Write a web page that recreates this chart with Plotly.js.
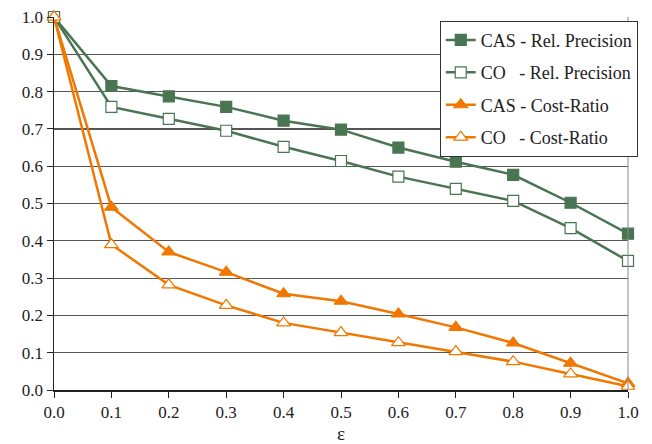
<!DOCTYPE html>
<html><head><meta charset="utf-8">
<script src="https://cdn.plot.ly/plotly-3.0.1.min.js"></script>
<style>
body{margin:0;background:#fff}
#chart text{font-family:"Liberation Serif",serif !important;}
</style>
</head><body>
<div id="chart" style="width:652px;height:444px"></div>
<script>
const eps = [0.0, 0.1, 0.2, 0.3, 0.4, 0.5, 0.6, 0.7, 0.8, 0.9, 1.0];
const casRelPrecision = [1.0, 0.815, 0.787, 0.759, 0.722, 0.698, 0.650, 0.612, 0.577, 0.502, 0.419];
const coRelPrecision  = [1.0, 0.759, 0.727, 0.695, 0.652, 0.614, 0.572, 0.539, 0.507, 0.434, 0.346];
const casCostRatio    = [1.0, 0.490, 0.370, 0.316, 0.258, 0.238, 0.204, 0.168, 0.126, 0.072, 0.018];
const coCostRatio     = [1.0, 0.390, 0.282, 0.227, 0.180, 0.154, 0.127, 0.103, 0.076, 0.043, 0.010];
const names = ["CAS - Rel. Precision", "CO&nbsp;&nbsp;&nbsp;- Rel. Precision", "CAS - Cost-Ratio", "CO&nbsp;&nbsp;&nbsp;- Cost-Ratio"];
const tickVals = [0, 0.1, 0.2, 0.3, 0.4, 0.5, 0.6, 0.7, 0.8, 0.9, 1.0];
const tickText = ["0.0","0.1","0.2","0.3","0.4","0.5","0.6","0.7","0.8","0.9","1.0"];

const FF = "Liberation Serif";
const green = "#4a7552", orange = "#f07800";
function tr(y, name, color, symbol, open, group) {
  return {x: eps, y: y, name: name, mode: "lines+markers", legendgroup: group,
    line: {color: color, width: 2.5},
    marker: {symbol: symbol, size: symbol === "square" ? 11 : 12, color: open ? "#fff" : color,
      line: {color: color, width: 1.2}},
    cliponaxis: false};
}
const data = [
  tr(casRelPrecision, names[0], green, "square", false, "a"),
  tr(coRelPrecision, names[1], green, "square", true, "b"),
  tr(casCostRatio, names[2], orange, "triangle-up", false, "c"),
  tr(coCostRatio, names[3], orange, "triangle-up", true, "d"),
];

const layout = {
  width: 652, height: 444,
  margin: {l: 54, r: 24, t: 17, b: 54},
  paper_bgcolor: "#fff", plot_bgcolor: "#fff",
  font: {family: FF, size: 17, color: "#222"},
  showlegend: true,
  legend: {x: 1.017, xanchor: "right", y: 0.99, yanchor: "top", bgcolor: "#fff",
    bordercolor: "#333", borderwidth: 1, font: {family: FF, size: 18, color: "#222"},
    traceorder: "grouped", tracegroupgap: 6},
  xaxis: {range: [0, 1], tickvals: tickVals, ticktext: tickText, showgrid: false,
    showline: true, linecolor: "#222", linewidth: 1.5, ticks: "outside", ticklen: 6,
    tickcolor: "#222", zeroline: false, mirror: false, tickfont: {family: FF, size: 17, color: "#222"},
    title: {text: "ε", font: {family: FF, size: 19, color: "#222"}, standoff: 8}},
  yaxis: {range: [0, 1], tickvals: tickVals, ticktext: tickText, showgrid: true,
    gridcolor: "#555", gridwidth: 1.2, showline: true, linecolor: "#222", linewidth: 1.5,
    ticks: "outside", ticklen: 6, tickcolor: "#222", zeroline: false, tickfont: {family: FF, size: 17, color: "#222"}},
  shapes: [
    {type: "line", xref: "paper", yref: "paper", x0: 1, x1: 1, y0: 0, y1: 1, line: {color: "#888", width: 1}}
  ]
};
Plotly.newPlot("chart", data, layout, {displayModeBar: false, staticPlot: true});
</script>
</body></html>
